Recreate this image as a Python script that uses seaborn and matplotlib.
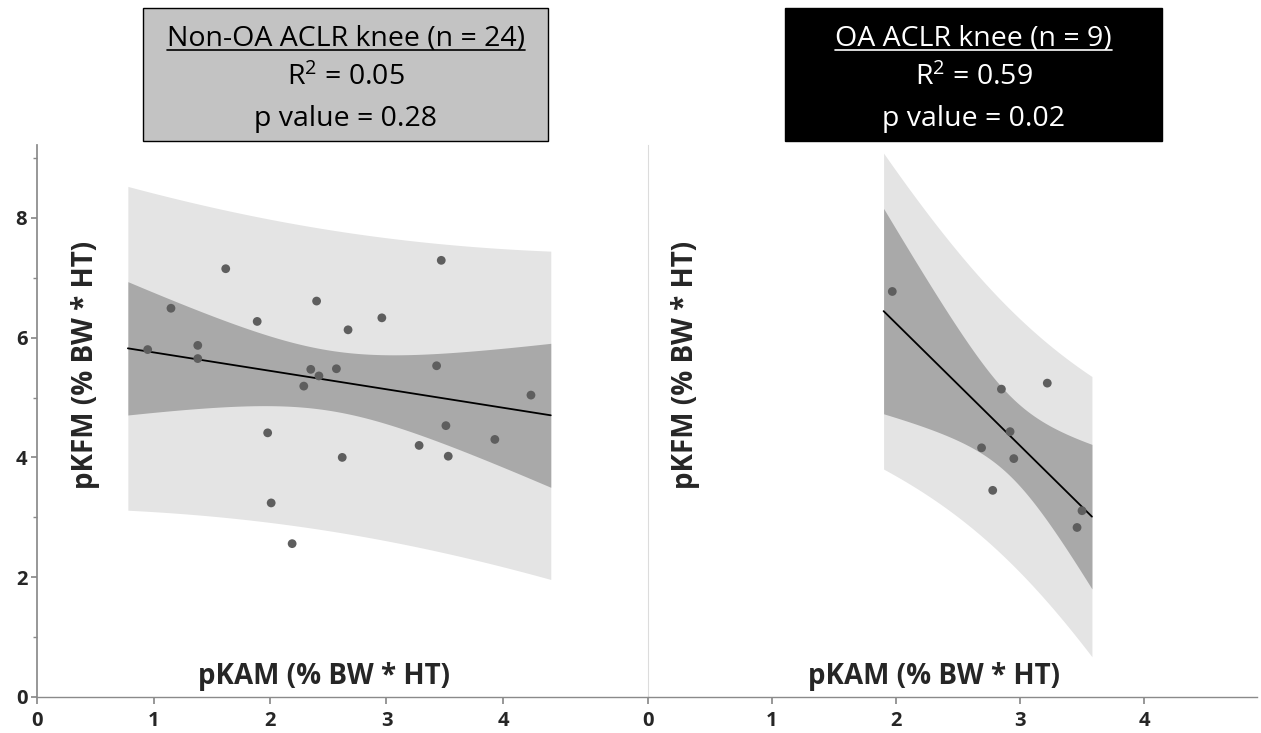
import numpy as np
import pandas as pd
import matplotlib
matplotlib.use("Agg")
import matplotlib.pyplot as plt
import seaborn as sns
from matplotlib.patches import Rectangle
from matplotlib.lines import Line2D

# ---------------- data ----------------
nonoa_pkam = [1.62, 1.15, 2.40, 1.89, 2.96, 2.67, 0.95, 1.38, 1.38, 2.35, 2.42, 2.57,
              2.29, 1.98, 2.62, 2.01, 2.19, 3.47, 3.43, 4.24, 3.51, 3.93, 3.28, 3.53]
nonoa_pkfm = [7.15, 6.49, 6.61, 6.27, 6.33, 6.13, 5.80, 5.87, 5.65, 5.47, 5.36, 5.48,
              5.19, 4.41, 4.00, 3.24, 2.56, 7.29, 5.53, 5.04, 4.53, 4.30, 4.20, 4.02]
oa_pkam = [1.97, 2.85, 3.22, 2.92, 2.69, 2.95, 2.78, 3.50, 3.46]
oa_pkfm = [6.77, 5.14, 5.24, 4.43, 4.16, 3.98, 3.45, 3.11, 2.83]

nonoa_title = ["Non-OA ACLR knee (n = 24)", "R$^2$ = 0.05", "p value = 0.28"]
oa_title = ["OA ACLR knee (n = 9)", "R$^2$ = 0.59", "p value = 0.02"]
x_label = "pKAM (% BW * HT)"
y_label = "pKFM (% BW * HT)"
x_ticks = [0, 1, 2, 3, 4]
y_ticks = [0, 2, 4, 6, 8]
nonoa_fit_range = (0.78, 4.41)
oa_fit_range = (1.90, 3.58)
t_crit = {22: 2.074, 7: 2.365}

# ---------------- style ----------------
sns.set_theme(style="white")
plt.rcParams['font.family'] = ['Open Sans', 'DejaVu Sans']
plt.rcParams['mathtext.fontset'] = 'custom'
plt.rcParams['mathtext.rm'] = 'Open Sans'
plt.rcParams['mathtext.it'] = 'Open Sans:italic'
plt.rcParams['mathtext.bf'] = 'Open Sans:bold'

W, H = 1261, 733
fig = plt.figure(figsize=(W / 100, H / 100), dpi=100)

def fx(px):
    return px / W

def fy(py):
    return 1 - py / H

ax1 = fig.add_axes([fx(37), fy(697), fx(648 - 37), (697 - 145) / H])
ax2 = fig.add_axes([fx(648), fy(697), fx(1257 - 648), (697 - 145) / H])

light = "#e4e4e4"
dark = "#a9a9a9"
pt_col = "#5e5e5e"
axis_col = "#8a8a8a"


def panel(ax, xs, ys, rng, xmax, ylab_x):
    x = np.asarray(xs)
    y = np.asarray(ys)
    n = len(x)
    b, a = np.polyfit(x, y, 1)
    resid = y - (a + b * x)
    s = np.sqrt(np.sum(resid ** 2) / (n - 2))
    xm = x.mean()
    sxx = np.sum((x - xm) ** 2)
    grid = np.linspace(rng[0], rng[1], 200)
    yhat = a + b * grid
    t = t_crit[n - 2]
    ci = t * s * np.sqrt(1 / n + (grid - xm) ** 2 / sxx)
    pi = t * s * np.sqrt(1 + 1 / n + (grid - xm) ** 2 / sxx)
    ax.fill_between(grid, yhat - pi, yhat + pi, color=light, lw=0, zorder=1)
    ax.fill_between(grid, yhat - ci, yhat + ci, color=dark, lw=0, zorder=2)
    sns.lineplot(x=grid, y=yhat, ax=ax, color="black", lw=1.3, zorder=3)
    df = pd.DataFrame({"pKAM": x, "pKFM": y})
    sns.scatterplot(data=df, x="pKAM", y="pKFM", ax=ax, color=pt_col, s=40,
                    edgecolor="none", zorder=4)
    ax.set_xlim(0, xmax)
    ax.set_ylim(0, (697 - 145) / 59.9)
    ax.set_xlabel("")
    ax.set_ylabel("")
    ax.set_xticks(x_ticks)
    ax.set_xticklabels([str(v) for v in x_ticks], fontsize=14.5, fontweight="bold")
    for sp in ["top", "right"]:
        ax.spines[sp].set_visible(False)
    ax.spines["bottom"].set_color(axis_col)
    ax.spines["bottom"].set_linewidth(1.0)
    ax.tick_params(axis="x", direction="out", length=5, color=axis_col, pad=5,
                   bottom=True)
    ax.set_facecolor("none")
    ax.text(ylab_x, (697 - 365) / 552, y_label, transform=ax.transAxes, rotation=90,
            ha="center", va="center", fontsize=20, fontweight="bold")
    ax.text(0.47, 0.038, x_label, transform=ax.transAxes,
            ha="center", va="center", fontsize=20, fontweight="bold")


panel(ax1, nonoa_pkam, nonoa_pkfm, nonoa_fit_range, 611 / 116.5, 48 / 611)
panel(ax2, oa_pkam, oa_pkfm, oa_fit_range, 609 / 124.0, 38 / 609)

ax1.set_yticks(y_ticks)
ax1.set_yticklabels([str(v) for v in y_ticks], fontsize=14.5, fontweight="bold")
ax1.set_yticks([1, 3, 5, 7, 9], minor=True)
ax1.spines["left"].set_color(axis_col)
ax1.tick_params(axis="y", which="major", direction="out", length=4, color=axis_col,
                left=True, pad=3)
ax1.tick_params(axis="y", which="minor", direction="out", length=3, color=axis_col,
                left=True)
ax2.set_yticks([])
ax2.spines["left"].set_color("#dcdcdc")
ax2.spines["left"].set_linewidth(0.8)
ax2.spines["bottom"].set_bounds(0, 609 / 124.0)

# ---------------- title boxes ----------------
def title_box(x0, x1, face, txtcol, lines):
    y0, y1 = 8, 141
    fig.patches.append(Rectangle((fx(x0), fy(y1)), fx(x1 - x0), (y1 - y0) / H,
                                 transform=fig.transFigure, facecolor=face,
                                 edgecolor="black", lw=1.0, zorder=0))
    cx = fx((x0 + x1) / 2)
    texts = []
    for ln, py in zip(lines, [46, 85, 126]):
        texts.append(fig.text(cx, fy(py), ln, ha="center", va="baseline",
                              fontsize=20.5, color=txtcol))
    return texts

t1 = title_box(143, 548, "#c3c3c3", "black", nonoa_title)
t2 = title_box(785, 1162, "black", "white", oa_title)

fig.canvas.draw()
r = fig.canvas.get_renderer()
for tt, col in [(t1[0], "black"), (t2[0], "white")]:
    bb = tt.get_window_extent(r)
    yline = bb.y0 + 3
    fig.add_artist(Line2D([bb.x0 / W, bb.x1 / W], [yline / H, yline / H],
                          transform=fig.transFigure, color=col, lw=1.2))

fig.savefig("out.png", dpi=100)
